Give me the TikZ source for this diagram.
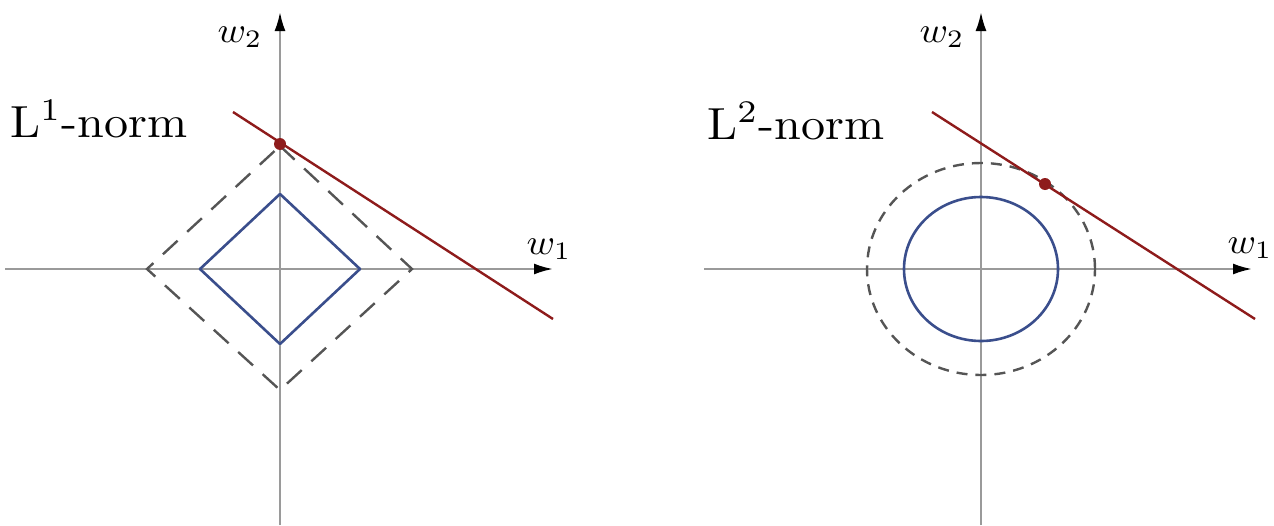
\documentclass[tikz,border=0pt]{standalone}
\usetikzlibrary{arrows.meta}
\definecolor{axisgray}{HTML}{9A9A9A}
\definecolor{normblue}{HTML}{3A4E8C}
\definecolor{linered}{HTML}{8E1B1B}
\definecolor{dashgray}{HTML}{555555}
\newcommand{\axtext}[1]{\scalebox{3.85}[3.6]{#1}}
\newcommand{\normtext}[1]{\scalebox{4.815}[4.5]{#1}}
\begin{document}
\begin{tikzpicture}[x=1pt,y=-1pt,
  axisline/.style={draw=axisgray,line width=2.2pt,-{Latex[length=19pt,width=11pt,color=black,fill=black]}},
  unitball/.style={draw=normblue,line width=2.6pt,line join=round},
  levelset/.style={draw=dashgray,line width=2.4pt,dash pattern=on 20pt off 13pt},
  levelcirc/.style={draw=dashgray,line width=2.4pt,dash pattern=on 11pt off 8pt},
  redline/.style={draw=linered,line width=2.4pt},
  reddot/.style={circle,fill=linered,inner sep=0pt,minimum size=12pt},
  axlabel/.style={inner sep=0pt},
  normlabel/.style={inner sep=0pt,anchor=base west}]
\useasboundingbox (0,0) rectangle (1274,525);
% ---------- left: L1 ----------
\coordinate (Lxa) at (5,269);
\coordinate (Lxb) at (553,269);
\coordinate (Lya) at (280,525);
\coordinate (Lyb) at (280,12);
\draw[axisline] (Lxa) -- (Lxb);
\draw[axisline] (Lya) -- (Lyb);
\draw[levelset] (280,146) -- (412,269) -- (280,390) -- (147,269) -- cycle;
\draw[unitball] (280,194) -- (360,269) -- (280,344) -- (200,269) -- cycle;
\coordinate (Lra) at (233,112);
\coordinate (Lrb) at (553,319);
\draw[redline] (Lra) -- (Lrb);
\node[reddot] (Ldot) at (280,144) {};
\node[axlabel] (Lw1) at (549,249) {\axtext{$w_1$}};
\node[axlabel] (Lw2) at (240,37) {\axtext{$w_2$}};
\node[normlabel] (Lnorm) at (10,137) {\normtext{L$^1$-norm}};
% ---------- right: L2 ----------
\coordinate (Rxa) at (704,269);
\coordinate (Rxb) at (1252,269);
\coordinate (Rya) at (981,525);
\coordinate (Ryb) at (981,12);
\coordinate (Ro) at (981,269);
\draw[axisline] (Rxa) -- (Rxb);
\draw[axisline] (Rya) -- (Ryb);
\draw[levelcirc] (Ro) ellipse [x radius=114pt, y radius=106pt];
\draw[unitball] (Ro) ellipse [x radius=77pt, y radius=72pt];
\coordinate (Rra) at (932,112);
\coordinate (Rrb) at (1255,319);
\draw[redline] (Rra) -- (Rrb);
\node[reddot] (Rdot) at (1045,184) {};
\node[axlabel] (Rw1) at (1250,248) {\axtext{$w_1$}};
\node[axlabel] (Rw2) at (942,37) {\axtext{$w_2$}};
\node[normlabel] (Rnorm) at (707,139) {\normtext{L$^2$-norm}};
\end{tikzpicture}
\end{document}
